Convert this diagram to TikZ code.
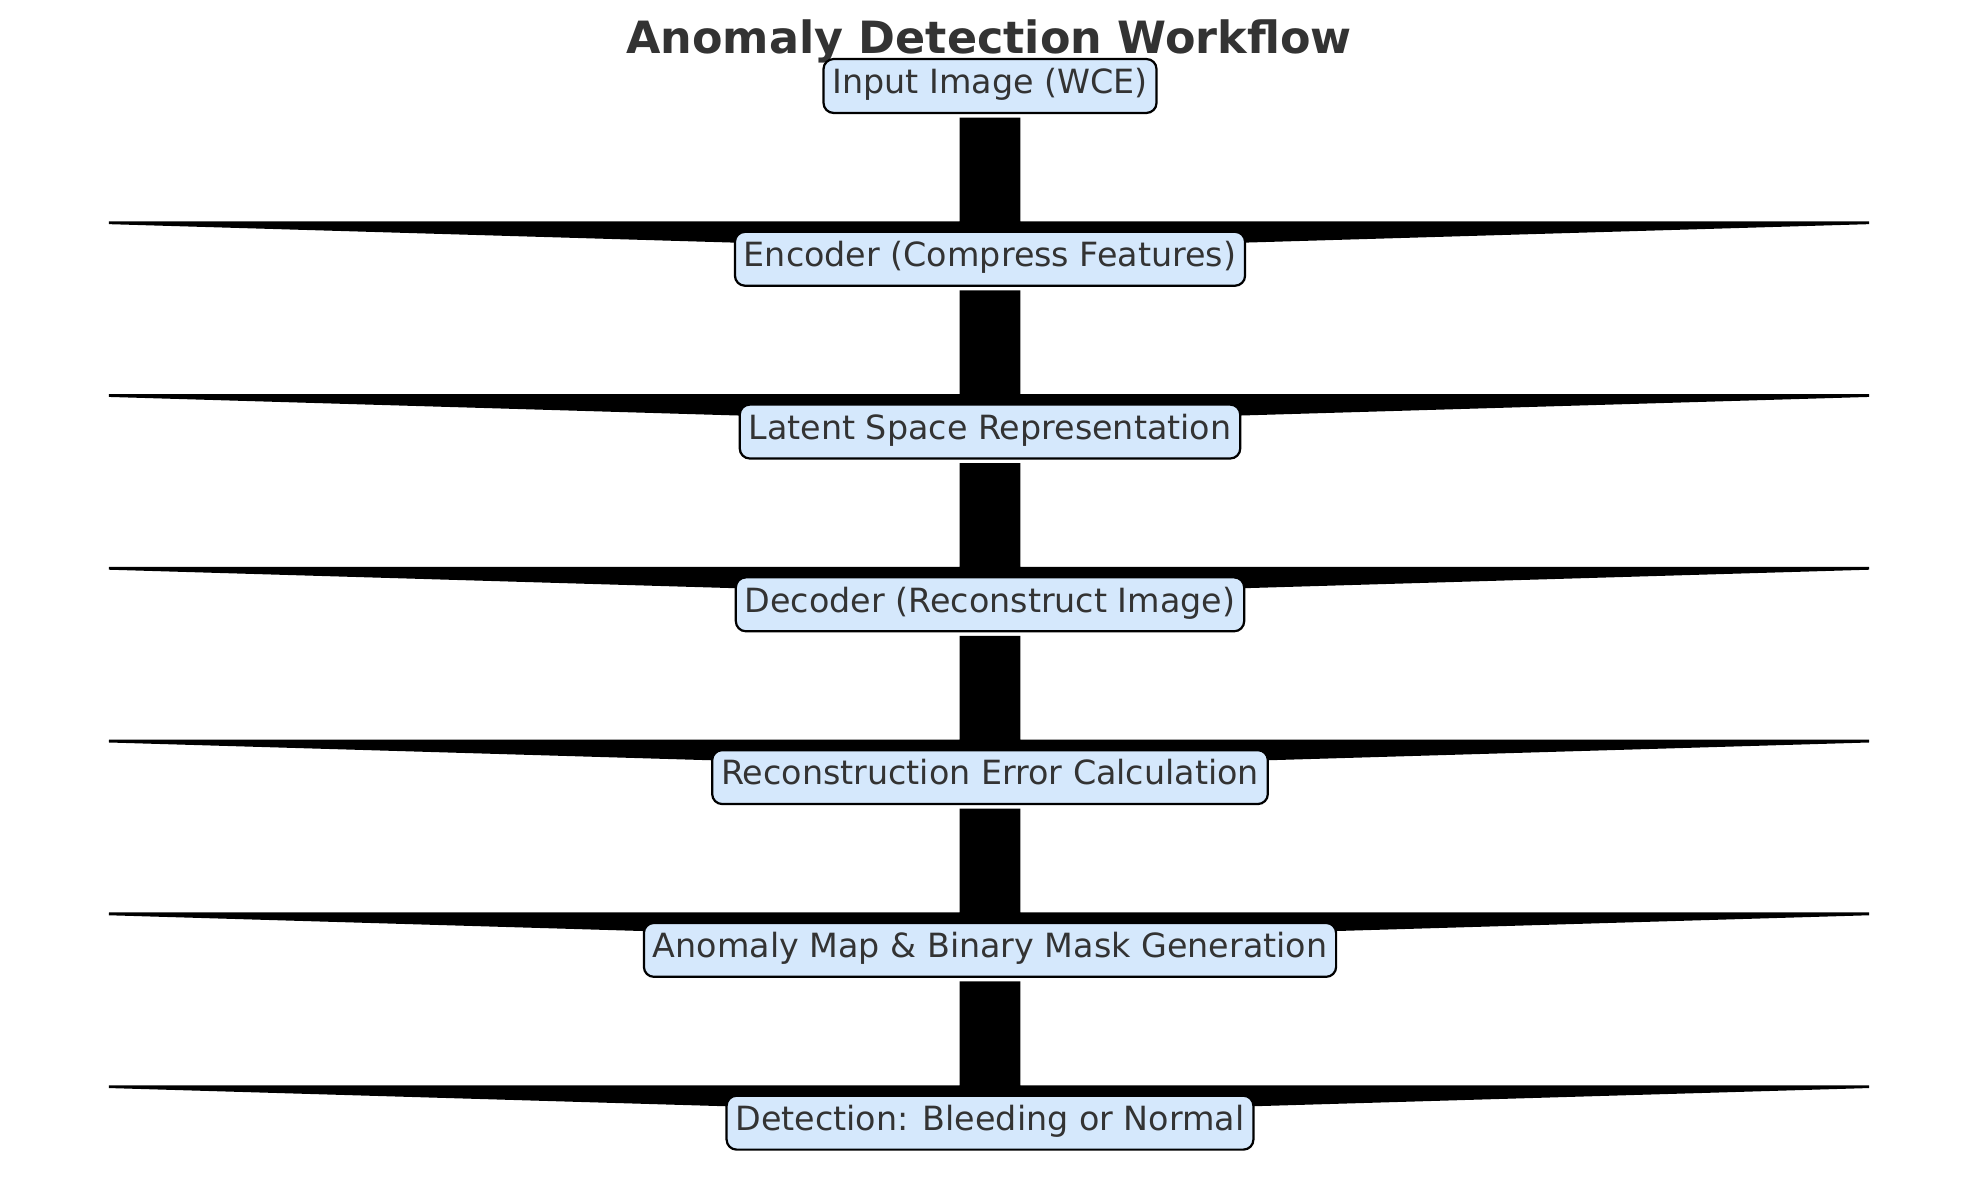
\documentclass[tikz,border=0pt]{standalone}
\usepackage{fontspec}
\setmainfont{DejaVu Sans}
\usetikzlibrary{positioning,calc,backgrounds}

\definecolor{boxblue}{RGB}{213,232,252}
\definecolor{inkgray}{RGB}{51,51,51}

\begin{document}
\begin{tikzpicture}[x=0.36pt, y=0.36pt, node distance=62.2pt,
	stage node/.style={draw=black, line width=0.8pt, rounded corners=3.6pt,
		fill=boxblue, text=inkgray, font=\fontsize{12}{14}\selectfont,
		inner xsep=3.2pt, inner ysep=3.5pt, text height=9pt, text depth=3.4pt},
	flow/.style={fill=black, draw=black, line width=1pt, line join=miter,
		to path={($(\tikztostart.center)+(-29,-33)$) rectangle ($(\tikztotarget.center)+(29,36)$)
			($(\tikztotarget.center)+(-881,36)$) -- ($(\tikztotarget.center)+(879,36)$)
			-- ($(\tikztotarget.center)+(0,10)$) -- cycle}}]
	
	\useasboundingbox (0,0) rectangle (1979,-1180);
	
	\node[font=\fontsize{16}{19}\selectfont\bfseries, text=inkgray, anchor=base, inner sep=0pt] (title) at (989,-54) {Anomaly Detection Workflow};
	
	\node[stage node] (in) at (990,-86) {Input Image (WCE)};
	\node[stage node] (enc) [below of=in] {Encoder (Compress Features)};
	\node[stage node] (lat) [below of=enc] {Latent Space Representation};
	\node[stage node] (dec) [below of=lat] {Decoder (Reconstruct Image)};
	\node[stage node] (rec) [below of=dec] {Reconstruction Error Calculation};
	\node[stage node] (amap) [below of=rec] {Anomaly Map \& Binary Mask Generation};
	\node[stage node] (det) [below of=amap] {Detection: Bleeding or Normal};
	
	\begin{pgfonlayer}{background}
	\fill[white] (0,0) rectangle (1979,-1180);
	\path
	(in) edge[flow] (enc)
	(enc) edge[flow] (lat)
	(lat) edge[flow] (dec)
	(dec) edge[flow] (rec)
	(rec) edge[flow] (amap)
	(amap) edge[flow] (det);
	\end{pgfonlayer}
\end{tikzpicture}
\end{document}
